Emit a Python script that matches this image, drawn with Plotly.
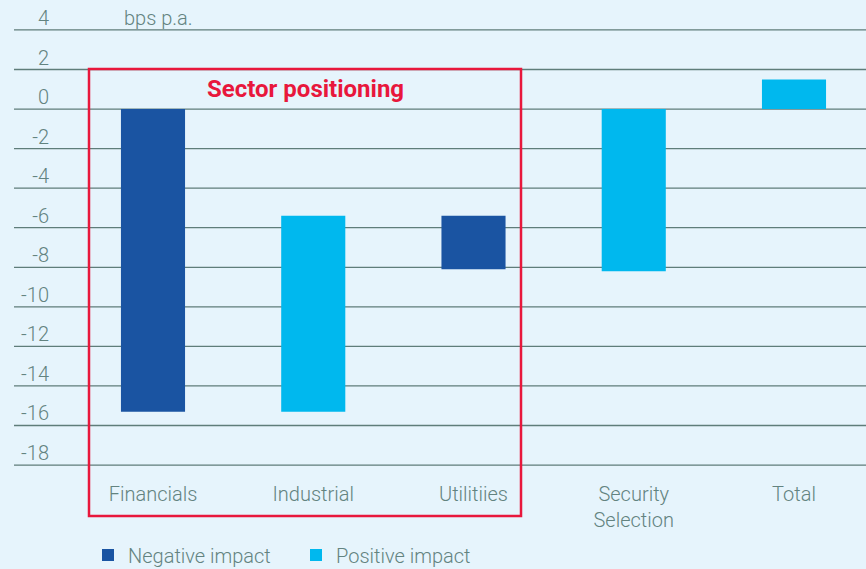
import plotly.graph_objects as go

# ---- data ----
categories = ["Financials", "Industrial", "Utilitiies", "Security<br>Selection", "Total"]
bar_start = [0.0, -15.3, -5.4, -8.2, 0.0]
bar_end = [-15.3, -5.4, -8.1, 0.0, 1.5]
impact = ["Negative", "Positive", "Negative", "Positive", "Positive"]
tick_values = [4, 2, 0, -2, -4, -6, -8, -10, -12, -14, -16, -18]
tick_labels = ["4", "2", "0", "-2", "-4", "-6", "-8", "-10", "-12", "-14", "-16", "-18"]

# ---- styles ----
BG = "#E6F4FC"
DARK = "#1A54A2"
LIGHT = "#00B8EE"
TEXT = "#638380"
GRID = "#5F7D7A"
RED = "#E8173C"
FONT = "Roboto"

W, H = 866, 569
L, R, T, B = 52, 0, 26, 100
pw, ph = W - L - R, H - T - B

def px_x(x):
    return (x - L) / pw

def px_y(y):
    return (H - B - y) / ph

fig = go.Figure()
for name, color in [("Negative", DARK), ("Positive", LIGHT)]:
    xs, ys, bs = [], [], []
    for c, s, e, imp in zip(categories, bar_start, bar_end, impact):
        if imp == name:
            xs.append(c)
            bs.append(s)
            ys.append(e - s)
    fig.add_trace(go.Bar(
        x=xs, y=ys, base=bs, name=f"{name} impact",
        marker=dict(color=color, line=dict(width=0)),
        width=0.4, hoverinfo="skip",
    ))

# gridlines spanning full width
for v in tick_values:
    fig.add_shape(type="line", xref="paper", yref="y", x0=px_x(14), x1=1, y0=v, y1=v,
                  line=dict(color=GRID, width=1.3), layer="below")

# red box
fig.add_shape(type="rect", xref="paper", yref="paper",
              x0=px_x(89), x1=px_x(521), y0=px_y(516), y1=px_y(69),
              line=dict(color=RED, width=2.5), layer="above")
fig.add_annotation(text="<b>Sector positioning</b>", xref="paper", yref="paper",
                   x=px_x(305), y=px_y(89), xanchor="center", yanchor="middle",
                   showarrow=False, font=dict(family=FONT, size=24, color=RED))
fig.add_annotation(text="bps p.a.", xref="paper", yref="paper",
                   x=px_x(122), y=px_y(18), xanchor="left", yanchor="middle",
                   showarrow=False, font=dict(family=FONT, size=20, color=TEXT, weight=300))

ppu = 160.25
fig.update_layout(
    width=W, height=H,
    margin=dict(l=L, r=R, t=T, b=B, autoexpand=False),
    paper_bgcolor=BG, plot_bgcolor=BG,
    barmode="overlay",
    font=dict(family=FONT, size=20, color=TEXT, weight=300),
    xaxis=dict(type="category", categoryorder="array", categoryarray=categories,
               range=[-(153 - L) / ppu, 4 + (866 - 794) / ppu],
               showgrid=False, zeroline=False, showline=False, ticks="",
               ticklabelstandoff=11,
               tickfont=dict(family=FONT, size=20, color=TEXT, weight=300)),
    yaxis=dict(range=[-18.2, 4.2], tickvals=tick_values, ticktext=tick_labels,
               showgrid=False, zeroline=False, showline=False, ticks="",
               ticklabelshift=-12, ticklabelstandoff=2,
               tickfont=dict(family=FONT, size=20, color=TEXT, weight=300)),
    legend=dict(orientation="h", x=px_x(88), y=px_y(555), xanchor="left", yanchor="middle",
                entrywidth=163, entrywidthmode="pixels",
                bgcolor="rgba(0,0,0,0)", font=dict(family=FONT, size=20, color=TEXT, weight=300)),
    showlegend=True,
)

fig.write_html("out.html", config={"displayModeBar": False},
               post_script="document.body.style.margin='0';")
